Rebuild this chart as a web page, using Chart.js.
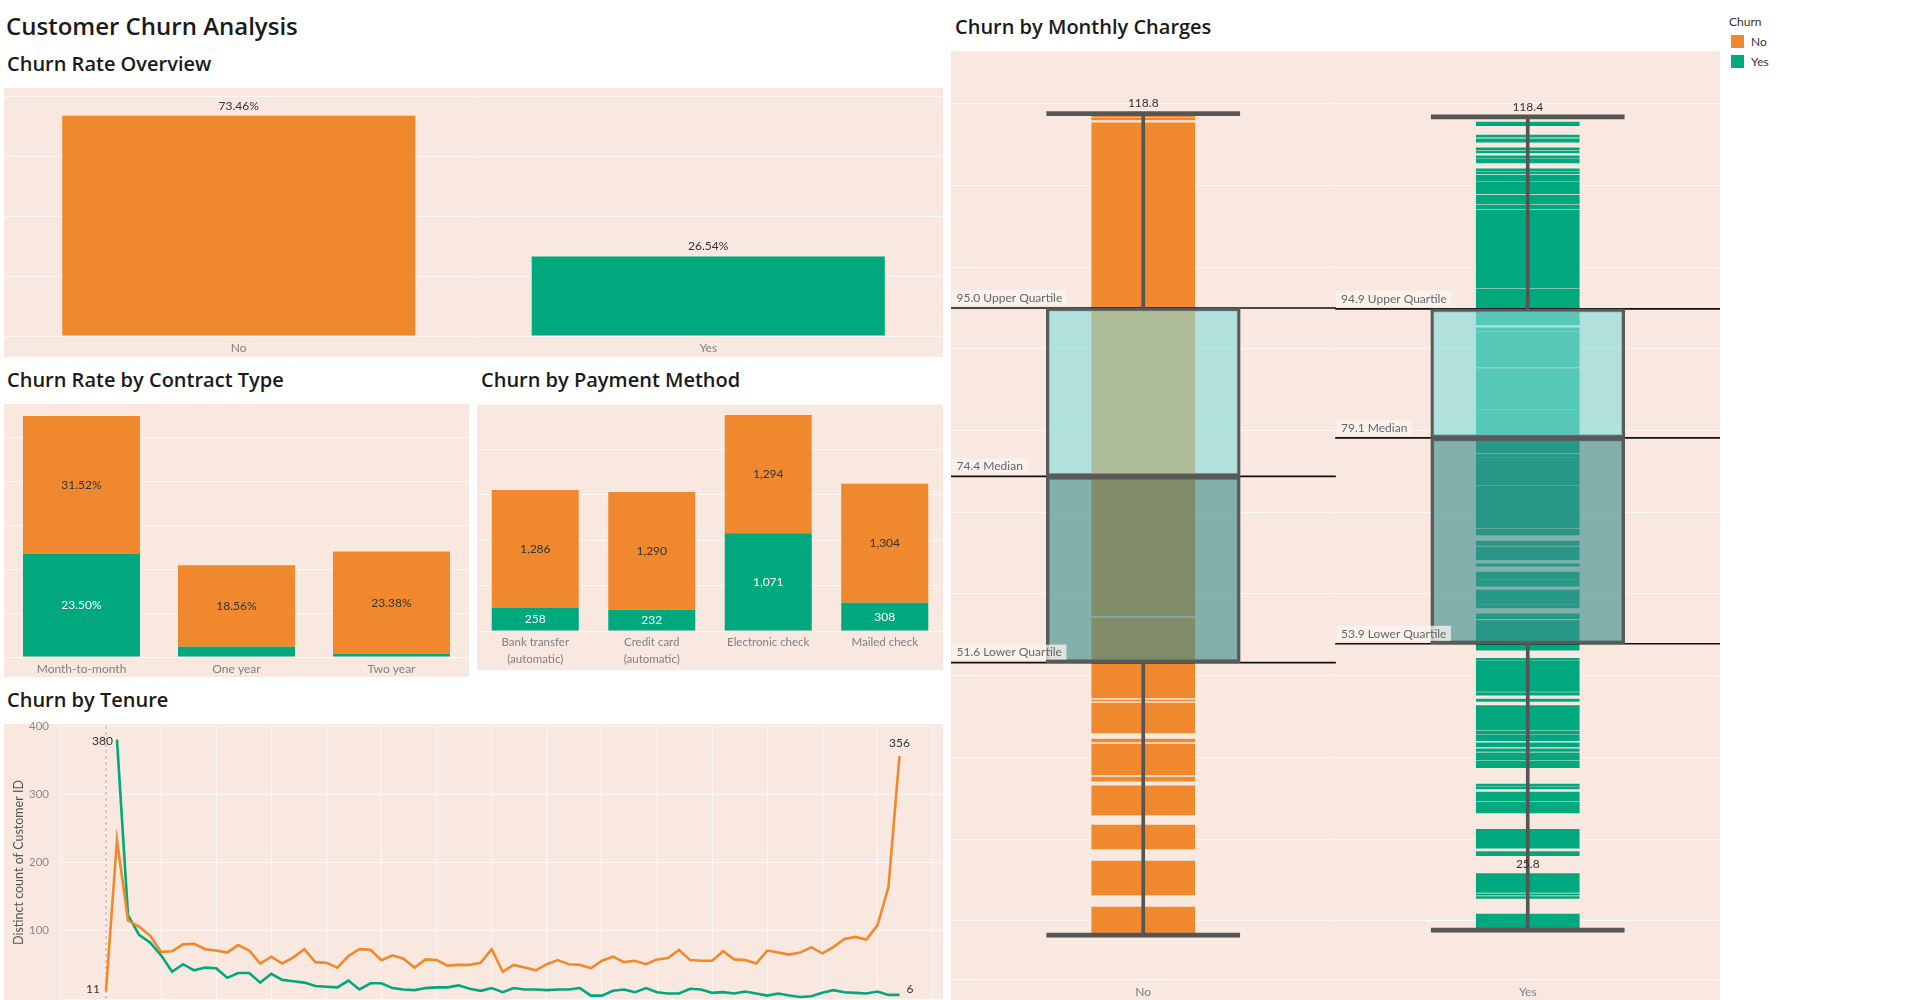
<!DOCTYPE html>
<html lang="en">
<head>
    <meta charset="utf-8">
    <title>Customer Churn Analysis</title>
    <script src="https://cdn.jsdelivr.net/npm/chart.js@4.4.1/dist/chart.umd.min.js"></script>
    <style>
        body { margin: 0; width: 1914px; height: 1000px; overflow: hidden; background: #fff; position: relative; font-family: Lato, "Noto Sans", sans-serif; }
        h1, h2 { position: absolute; margin: 0; font-family: "Open Sans", Lato, sans-serif; font-weight: 600; color: #1a1a1a; line-height: 1; white-space: nowrap; }
        h1 { font-size: 24px; }
        h2 { font-size: 20px; }
        .panel { position: absolute; background: #f8e8e0; }
        .holder { position: absolute; }
        .legend { position: absolute; left: 1729px; top: 14px; font-size: 12px; color: #333; }
        .legend div { position: absolute; white-space: nowrap; }
        .legend span { position: absolute; width: 13px; height: 13px; }
    </style>
</head>
<body>

<h1 style="left:6px; top:14px;">Customer Churn Analysis</h1>
<h2 style="left:7px; top:54px;">Churn Rate Overview</h2>
<h2 style="left:7px; top:370px;">Churn Rate by Contract Type</h2>
<h2 style="left:481px; top:370px;">Churn by Payment Method</h2>
<h2 style="left:7px; top:690px;">Churn by Tenure</h2>
<h2 style="left:955px; top:17px;">Churn by Monthly Charges</h2>

<div class="panel" style="left:4px; top:88px; width:939px; height:269px;"><canvas id="overviewChart"></canvas></div>
<div class="panel" style="left:4px; top:404px; width:465px; height:273px;"><canvas id="contractChart"></canvas></div>
<div class="panel" style="left:477px; top:404px; width:466px; height:266px;"><canvas id="paymentChart"></canvas></div>
<div class="panel" style="left:4px; top:724px; width:939px; height:276px;"></div>
<div class="holder" style="left:4px; top:712px; width:939px; height:288px;"><canvas id="tenureChart"></canvas></div>
<div class="panel" style="left:951px; top:51px; width:769px; height:949px;"><canvas id="chargesChart"></canvas></div>

<div class="legend">
    <div style="left:0; top:0;">Churn</div>
    <span style="left:2px; top:21px; background:#f0892d;"></span>
    <div style="left:22px; top:20px;">No</div>
    <span style="left:2px; top:41px; background:#00a87d;"></span>
    <div style="left:22px; top:40px;">Yes</div>
</div>

<script type="text/javascript">

    const NO_COLOR = '#f0892d';
    const YES_COLOR = '#00a87d';
    const GRID = 'rgba(255,255,255,0.65)';

    const overviewLabels = ['No', 'Yes'];
    const overviewRate = [73.46, 26.54];

    const contractTypes = ['Month-to-month', 'One year', 'Two year'];
    const contractNo = [31.52, 18.56, 23.38];
    const contractYes = [23.50, 2.36, 0.68];

    const paymentMethods = [['Bank transfer', '(automatic)'], ['Credit card', '(automatic)'], 'Electronic check', 'Mailed check'];
    const paymentNo = [1286, 1290, 1294, 1304];
    const paymentYes = [258, 232, 1071, 308];

    const tenureMonths = [0, 1, 2, 3, 4, 5, 6, 7, 8, 9, 10, 11, 12, 13, 14, 15, 16, 17, 18, 19, 20,
        21, 22, 23, 24, 25, 26, 27, 28, 29, 30, 31, 32, 33, 34, 35, 36, 37, 38, 39, 40, 41, 42, 43, 44, 45, 46, 47, 48,
        49, 50, 51, 52, 53, 54, 55, 56, 57, 58, 59, 60, 61, 62, 63, 64, 65, 66, 67, 68, 69, 70, 71, 72];
    const tenureNo = [11, 233, 115, 106, 93, 69, 70, 80, 81, 73, 71, 68, 79, 71, 52, 62, 52, 61, 73, 54, 53,
        46, 63, 73, 72, 57, 64, 59, 46, 58, 57, 49, 50, 50, 53, 73, 40, 50, 46, 42, 51, 57, 51, 50, 45, 56, 62, 54, 56,
        51, 58, 60, 72, 57, 56, 56, 70, 58, 57, 52, 71, 68, 65, 68, 76, 67, 76, 88, 91, 87, 108, 164, 356];
    const tenureYes = [null, 380, 123, 94, 83, 64, 40, 51, 42, 46, 45, 31, 38, 38, 24, 37, 28, 26, 24, 19, 18,
        17, 27, 14, 23, 23, 16, 14, 13, 16, 17, 17, 20, 15, 12, 16, 10, 16, 14, 14, 13, 14, 14, 16, 5, 5, 12, 14, 10,
        16, 10, 8, 8, 15, 14, 9, 10, 8, 11, 8, 5, 8, 5, 3, 4, 9, 13, 10, 9, 8, 11, 6, 6];

    const chargeGroups = ['No', 'Yes'];
    const chargeMin = [18.25, 18.85];
    const chargeLowerQuartile = [51.6, 53.9];
    const chargeMedian = [74.4, 79.1];
    const chargeUpperQuartile = [95.0, 94.9];
    const chargeMax = [118.8, 118.4];
    const chargeNote = [null, 25.8];
    const chargeBandsNo = [[118.38, 118.50], [118.01, 118.26], [57.30, 117.68], [47.27, 57.06], [46.90, 47.02],
        [43.00, 46.65], [41.88, 42.25], [37.84, 41.64], [37.10, 37.60], [32.95, 36.50], [28.78, 31.72],
        [23.15, 27.31], [18.30, 21.68]];
    const chargeBandsYes = [[117.31, 117.76], [115.92, 116.18], [115.31, 115.70], [114.34, 114.60], [113.99, 114.21],
        [113.37, 113.64], [112.76, 113.25], [111.76, 112.03], [111.45, 111.63], [110.53, 111.28], [109.00, 110.41],
        [107.74, 108.83], [107.13, 107.60], [97.50, 107.00], [92.92, 97.34], [92.18, 92.56], [87.77, 92.05],
        [82.69, 87.58], [77.27, 82.57], [76.75, 77.09], [73.34, 76.65], [68.09, 73.20], [67.22, 67.91],
        [65.94, 66.47], [64.16, 65.74], [63.41, 63.68], [61.88, 62.68], [60.96, 61.76], [58.73, 60.48],
        [58.29, 58.60], [56.98, 57.56], [53.12, 56.73], [51.88, 52.12], [48.06, 51.76], [47.61, 47.94],
        [46.84, 47.12], [43.39, 46.34], [42.85, 43.26], [42.03, 42.73], [41.29, 41.78], [40.72, 41.03],
        [39.73, 40.55], [38.73, 39.57], [36.48, 36.73], [36.15, 36.36], [34.63, 35.75], [33.19, 34.51],
        [28.88, 31.18], [27.98, 28.48], [23.46, 25.76], [23.13, 23.30], [22.72, 22.97], [18.82, 20.83]];

    Chart.defaults.font.family = 'Lato, "Noto Sans", sans-serif';
    Chart.defaults.color = '#808080';

    function baseOptions(scales, paddingTop) {
        return {
            responsive: true,
            maintainAspectRatio: false,
            animation: false,
            layout: {padding: {top: paddingTop || 0, left: 0, right: 0, bottom: 0}},
            plugins: {legend: {display: false}, tooltip: {enabled: false}},
            scales: scales
        };
    }

    function valueAxis(min, max, step) {
        return {
            min: min, max: max,
            grid: {color: GRID, drawTicks: false},
            border: {display: false},
            ticks: {display: false, stepSize: step, includeBounds: false},
            afterFit: s => { s.width = 0; }
        };
    }

    function categoryAxis(height, pad) {
        return {
            grid: {display: false, drawTicks: false},
            border: {display: false},
            ticks: {color: '#808080', font: {size: 12}, padding: pad, maxRotation: 0, autoSkip: false},
            afterFit: s => { s.height = height; }
        };
    }

    // labels in the middle of each stacked segment
    const segmentLabels = {
        id: 'segmentLabels',
        afterDatasetsDraw(chart) {
            const ctx = chart.ctx;
            ctx.save();
            ctx.font = '12px Lato';
            ctx.textAlign = 'center';
            ctx.textBaseline = 'middle';
            chart.data.datasets.forEach((ds, d) => {
                chart.getDatasetMeta(d).data.forEach((bar, i) => {
                    if (Math.abs(bar.base - bar.y) < 16) return;
                    ctx.fillStyle = ds.labelColor;
                    ctx.fillText(ds.labelFormat(ds.data[i]), bar.x, (bar.y + bar.base) / 2);
                });
            });
            ctx.restore();
        }
    };

    new Chart('overviewChart', {
        type: 'bar',
        data: {
            labels: overviewLabels,
            datasets: [{data: overviewRate, backgroundColor: [NO_COLOR, YES_COLOR], barPercentage: 0.752, categoryPercentage: 1}]
        },
        options: baseOptions({x: categoryAxis(21, 5), y: valueAxis(0, 82.67, 20)}),
        plugins: [{
            id: 'topLabels',
            afterDatasetsDraw(chart) {
                const ctx = chart.ctx;
                ctx.save();
                ctx.font = '12px Lato';
                ctx.fillStyle = '#333';
                ctx.textAlign = 'center';
                ctx.textBaseline = 'middle';
                chart.getDatasetMeta(0).data.forEach((bar, i) => {
                    ctx.fillText(overviewRate[i].toFixed(2) + '%', bar.x, bar.y - 10);
                });
                ctx.restore();
            }
        }]
    });

    const pct = v => v.toFixed(2) + '%';
    const num = v => v.toLocaleString('en-US');

    const contractOptions = baseOptions({x: categoryAxis(20, 5), y: valueAxis(0, 57.76, 10)});
    contractOptions.scales.x.stacked = true;
    contractOptions.scales.y.stacked = true;
    new Chart('contractChart', {
        type: 'bar',
        data: {
            labels: contractTypes,
            datasets: [
                {data: contractYes, backgroundColor: YES_COLOR, barPercentage: 0.755, categoryPercentage: 1, labelColor: '#fff', labelFormat: pct},
                {data: contractNo, backgroundColor: NO_COLOR, barPercentage: 0.755, categoryPercentage: 1, labelColor: '#333', labelFormat: pct}
            ]
        },
        options: contractOptions,
        plugins: [segmentLabels]
    });

    const paymentOptions = baseOptions({x: categoryAxis(39, 3), y: valueAxis(0, 2485, 500)});
    paymentOptions.scales.x.stacked = true;
    paymentOptions.scales.y.stacked = true;
    paymentOptions.scales.x.ticks.font = {size: 11.5, lineHeight: 1.45};
    new Chart('paymentChart', {
        type: 'bar',
        data: {
            labels: paymentMethods,
            datasets: [
                {data: paymentYes, backgroundColor: YES_COLOR, barPercentage: 0.747, categoryPercentage: 1, labelColor: '#fff', labelFormat: num},
                {data: paymentNo, backgroundColor: NO_COLOR, barPercentage: 0.747, categoryPercentage: 1, labelColor: '#333', labelFormat: num}
            ]
        },
        options: paymentOptions,
        plugins: [segmentLabels]
    });

    new Chart('tenureChart', {
        type: 'line',
        data: {
            labels: tenureMonths,
            datasets: [
                {data: tenureNo, borderColor: NO_COLOR, borderWidth: 2.6, pointRadius: 0, tension: 0},
                {data: tenureYes, borderColor: YES_COLOR, borderWidth: 2.6, pointRadius: 0, tension: 0}
            ]
        },
        options: baseOptions({
            x: {
                type: 'linear', min: -4.17, max: 75.95,
                grid: {color: GRID, drawTicks: false},
                border: {display: false},
                ticks: {display: false, stepSize: 5, includeBounds: false},
                afterFit: s => { s.height = 1; s.paddingLeft = 0; s.paddingRight = 0; }
            },
            y: {
                min: 0, max: 400,
                grid: {color: GRID, drawTicks: false},
                border: {display: true, color: GRID},
                ticks: {stepSize: 100, color: '#8a8a8a', font: {size: 11.5}, padding: 11, callback: v => (v === 0 ? '' : v)},
                title: {display: true, text: 'Distinct count of Customer ID', color: '#555', font: {size: 12.5}, padding: {top: 7, bottom: 0}},
                afterFit: s => { s.width = 56; s.paddingTop = 0; s.paddingBottom = 0; }
            }
        }, 14),
        plugins: [{
            id: 'tenureMarks',
            beforeDatasetsDraw(chart) {
                const ctx = chart.ctx;
                const x = chart.scales.x.getPixelForValue(tenureMonths[0]);
                ctx.save();
                ctx.strokeStyle = '#b0a8a4';
                ctx.lineWidth = 1;
                ctx.setLineDash([3, 3]);
                ctx.beginPath();
                ctx.moveTo(x, chart.chartArea.top);
                ctx.lineTo(x, chart.chartArea.bottom);
                ctx.stroke();
                ctx.restore();
            },
            afterDatasetsDraw(chart) {
                const ctx = chart.ctx;
                const no = chart.getDatasetMeta(0).data;
                const yes = chart.getDatasetMeta(1).data;
                const last = tenureMonths.length - 1;
                ctx.save();
                ctx.font = '12px Lato';
                ctx.fillStyle = '#333';
                ctx.textBaseline = 'middle';
                ctx.textAlign = 'right';
                ctx.fillText(String(tenureNo[0]), no[0].x - 6, no[0].y - 2);
                ctx.fillText(String(tenureYes[1]), yes[1].x - 4, yes[1].y + 1);
                ctx.textAlign = 'center';
                ctx.fillText(String(tenureNo[last]), no[last].x, no[last].y - 13);
                ctx.textAlign = 'left';
                ctx.fillText(String(tenureYes[last]), yes[last].x + 7, yes[last].y - 6);
                ctx.restore();
            }
        }]
    });

    // monthly charges: value bands, reference lines, whiskers and box
    const chargeDatasets = [];
    const bandCount = Math.max(chargeBandsNo.length, chargeBandsYes.length);
    for (let i = 0; i < bandCount; i++) {
        chargeDatasets.push({
            data: [chargeBandsNo[i] || null, chargeBandsYes[i] || null],
            backgroundColor: [NO_COLOR, YES_COLOR],
            barThickness: 103, grouped: false, order: 5
        });
    }
    [['Upper Quartile', chargeUpperQuartile], ['Median', chargeMedian], ['Lower Quartile', chargeLowerQuartile]].forEach(st => {
        chargeDatasets.push({
            data: st[1].map(v => [v - 0.06, v + 0.06]),
            backgroundColor: '#111', barPercentage: 1, categoryPercentage: 1, grouped: false, order: 4,
            refName: st[0], refValues: st[1]
        });
    });
    chargeDatasets.push({
        data: chargeGroups.map((g, k) => [chargeUpperQuartile[k], chargeMax[k]]),
        backgroundColor: '#555', barThickness: 3, grouped: false, order: 3
    });
    chargeDatasets.push({
        data: chargeGroups.map((g, k) => [chargeMin[k], chargeLowerQuartile[k]]),
        backgroundColor: '#555', barThickness: 3, grouped: false, order: 3
    });
    [chargeMax, chargeMin].forEach(arr => {
        chargeDatasets.push({
            data: arr.map(v => [v - 0.25, v + 0.25]),
            backgroundColor: '#555', barThickness: 193, grouped: false, order: 2
        });
    });
    chargeDatasets.push({
        data: chargeGroups.map((g, k) => [chargeMedian[k], chargeUpperQuartile[k]]),
        backgroundColor: 'rgba(137,218,219,0.63)', borderColor: '#595959', borderWidth: 3, borderSkipped: false,
        barThickness: 194, grouped: false, order: 1
    });
    chargeDatasets.push({
        data: chargeGroups.map((g, k) => [chargeLowerQuartile[k], chargeMedian[k]]),
        backgroundColor: 'rgba(64,142,140,0.63)', borderColor: '#595959', borderWidth: 3, borderSkipped: false,
        barThickness: 194, grouped: false, order: 1
    });

    const chargeOptions = baseOptions({x: categoryAxis(21, 6), y: valueAxis(12.87, 126.46, 10)});
    chargeOptions.scales.x.border = {display: true, color: GRID};

    new Chart('chargesChart', {
        type: 'bar',
        data: {labels: chargeGroups, datasets: chargeDatasets},
        options: chargeOptions,
        plugins: [{
            id: 'chargeLabels',
            afterDatasetsDraw(chart) {
                const ctx = chart.ctx;
                const y = chart.scales.y;
                const x = chart.scales.x;
                ctx.save();
                ctx.font = '12px Lato';
                ctx.textBaseline = 'middle';
                chart.data.datasets.forEach((ds, d) => {
                    if (!ds.refName) return;
                    chart.getDatasetMeta(d).data.forEach((bar, k) => {
                        const text = ds.refValues[k].toFixed(1) + ' ' + ds.refName;
                        const left = bar.x - bar.width / 2;
                        const py = y.getPixelForValue(ds.refValues[k]);
                        const w = ctx.measureText(text).width;
                        ctx.fillStyle = 'rgba(250,244,240,0.75)';
                        ctx.fillRect(left + 1, py - 18, w + 9, 15);
                        ctx.fillStyle = '#666';
                        ctx.textAlign = 'left';
                        ctx.fillText(text, left + 5.5, py - 10);
                    });
                });
                ctx.fillStyle = '#333';
                ctx.textAlign = 'center';
                chargeGroups.forEach((g, k) => {
                    const cx = x.getPixelForValue(k);
                    ctx.fillText(chargeMax[k].toFixed(1), cx, y.getPixelForValue(chargeMax[k]) - 10);
                    if (chargeNote[k] !== null) {
                        ctx.fillText(chargeNote[k].toFixed(1), cx, y.getPixelForValue(chargeNote[k]) - 9);
                    }
                });
                ctx.restore();
            }
        }]
    });

</script>
</body>
</html>
